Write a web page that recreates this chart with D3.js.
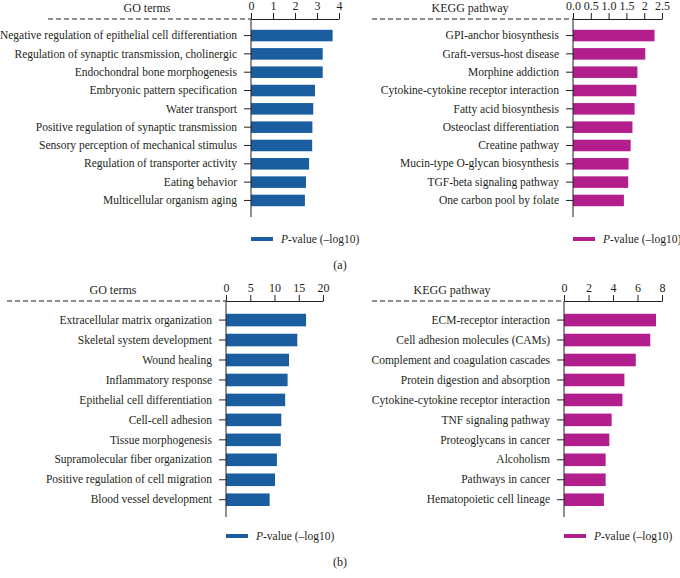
<!DOCTYPE html>
<html>
<head>
<meta charset="utf-8">
<script src="https://cdn.jsdelivr.net/npm/d3@7"></script>
<style>
  body { margin: 0; background: #fff; }
  svg text { font-family: "Liberation Serif", "DejaVu Serif", serif; fill: #231f20; }
</style>
</head>
<body>
<svg id="chart" width="680" height="578"></svg>
<script>
// panel (a) GO terms
var goA = ["Negative regulation of epithelial cell differentiation",
  "Regulation of synaptic transmission, cholinergic",
  "Endochondral bone morphogenesis",
  "Embryonic pattern specification",
  "Water transport",
  "Positive regulation of synaptic transmission",
  "Sensory perception of mechanical stimulus",
  "Regulation of transporter activity",
  "Eating behavior",
  "Multicellular organism aging"];
var goAValues = [3.71, 3.26, 3.26, 2.91, 2.83, 2.79, 2.78, 2.64, 2.5, 2.45];
var goATicks = [0, 1, 2, 3, 4];

// panel (a) KEGG
var keggA = ["GPI-anchor biosynthesis",
  "Graft-versus-host disease",
  "Morphine addiction",
  "Cytokine-cytokine receptor interaction",
  "Fatty acid biosynthesis",
  "Osteoclast differentiation",
  "Creatine pathway",
  "Mucin-type O-glycan biosynthesis",
  "TGF-beta signaling pathway",
  "One carbon pool by folate"];
var keggAValues = [2.29, 2.03, 1.81, 1.78, 1.73, 1.67, 1.62, 1.56, 1.55, 1.43];
var keggATicks = [0, 0.5, 1, 1.5, 2, 2.5];
var keggATickLabels = ["0.0", "0.5", "1.0", "1.5", "2", "2.5"];

// panel (b) GO terms
var goB = ["Extracellular matrix organization",
  "Skeletal system development",
  "Wound healing",
  "Inflammatory response",
  "Epithelial cell differentiation",
  "Cell-cell adhesion",
  "Tissue morphogenesis",
  "Supramolecular fiber organization",
  "Positive regulation of cell migration",
  "Blood vessel development"];
var goBValues = [16.5, 14.7, 13.0, 12.7, 12.2, 11.4, 11.3, 10.5, 10.1, 9.0];
var goBTicks = [0, 5, 10, 15, 20];

// panel (b) KEGG
var keggB = ["ECM-receptor interaction",
  "Cell adhesion molecules (CAMs)",
  "Complement and coagulation cascades",
  "Protein digestion and absorption",
  "Cytokine-cytokine receptor interaction",
  "TNF signaling pathway",
  "Proteoglycans in cancer",
  "Alcoholism",
  "Pathways in cancer",
  "Hematopoietic cell lineage"];
var keggBValues = [7.51, 7.04, 5.86, 4.93, 4.77, 3.89, 3.70, 3.40, 3.40, 3.26];
var keggBTicks = [0, 2, 4, 6, 8];

var blue = "#1a5e9f";
var magenta = "#b21f8d";

var svg = d3.select("#chart");

function drawPanel(p){
  var g = svg.append("g");

  var x = d3.scaleLinear().domain([0, p.ticks[p.ticks.length-1]]).range([p.x0, p.x1]);
  var y = d3.scaleBand().domain(p.names).range([p.top, p.top + p.step*10]).padding(0.37);

  // top axis
  var xAxis = d3.axisTop(x).tickValues(p.ticks).tickSize(6).tickSizeOuter(0).tickPadding(3)
    .tickFormat(function(d, i){ return p.tickLabels ? p.tickLabels[i] : d; });
  var ax = g.append("g").attr("transform", "translate(0," + p.axisY + ")").call(xAxis);
  ax.selectAll("text").style("font-size", "12px");
  ax.selectAll("line, path").attr("stroke", "#231f20");

  // dashed line to the left
  g.append("line")
    .attr("x1", p.dashX).attr("x2", p.x0)
    .attr("y1", p.axisY).attr("y2", p.axisY)
    .attr("stroke", "#231f20").attr("stroke-dasharray", "5,3");

  g.append("text").attr("x", p.titleX).attr("y", p.axisY - 7)
    .attr("text-anchor", "middle").style("font-size", "12px").text(p.title);

  // bars
  g.selectAll(".bar").data(p.values).enter().append("rect")
    .attr("class", "bar")
    .attr("x", x(0))
    .attr("y", function(d, i){ return y(p.names[i]); })
    .attr("width", function(d){ return x(d) - x(0); })
    .attr("height", y.bandwidth())
    .attr("fill", p.color);

  // category axis
  var yAxis = d3.axisLeft(y).tickSize(7).tickSizeOuter(0).tickPadding(7);
  var ay = g.append("g").attr("transform", "translate(" + x(0) + ",0)").call(yAxis);
  ay.select(".domain").remove();
  ay.selectAll("text").style("font-size", "11.5px");
  ay.selectAll("line").attr("stroke", "#231f20");

  g.append("line")
    .attr("x1", x(0)).attr("x2", x(0))
    .attr("y1", p.axisY).attr("y2", p.bottom)
    .attr("stroke", "#231f20");

  // legend
  g.append("line")
    .attr("x1", x(0)).attr("x2", x(0) + 22)
    .attr("y1", p.legendY).attr("y2", p.legendY)
    .attr("stroke", p.color).attr("stroke-width", 4);
  var lt = g.append("text").attr("x", x(0) + 30).attr("y", p.legendY + 4).style("font-size", "11.5px");
  lt.append("tspan").style("font-style", "italic").text("P");
  lt.append("tspan").text("-value (\u2013log10)");
}

drawPanel({names: goA, values: goAValues, ticks: goATicks, color: blue, title: "GO terms",
  x0: 251, x1: 339, axisY: 19, top: 23, step: 19, bottom: 217, dashX: 48, titleX: 147, legendY: 239});
drawPanel({names: keggA, values: keggAValues, ticks: keggATicks, tickLabels: keggATickLabels, color: magenta,
  title: "KEGG pathway", x0: 573, x1: 662, axisY: 19, top: 23, step: 19, bottom: 217, dashX: 372, titleX: 470, legendY: 239});
drawPanel({names: goB, values: goBValues, ticks: goBTicks, color: blue, title: "GO terms",
  x0: 226, x1: 323, axisY: 301, top: 306.4, step: 20.7, bottom: 517, dashX: 7, titleX: 113, legendY: 536});
drawPanel({names: keggB, values: keggBValues, ticks: keggBTicks, color: magenta, title: "KEGG pathway",
  x0: 564, x1: 662, axisY: 301, top: 306.4, step: 20.7, bottom: 517, dashX: 372, titleX: 452, legendY: 536});

svg.append("text").attr("x", 340).attr("y", 269).attr("text-anchor", "middle").style("font-size", "12px").text("(a)");
svg.append("text").attr("x", 340).attr("y", 566).attr("text-anchor", "middle").style("font-size", "12px").text("(b)");
</script>
</body>
</html>
